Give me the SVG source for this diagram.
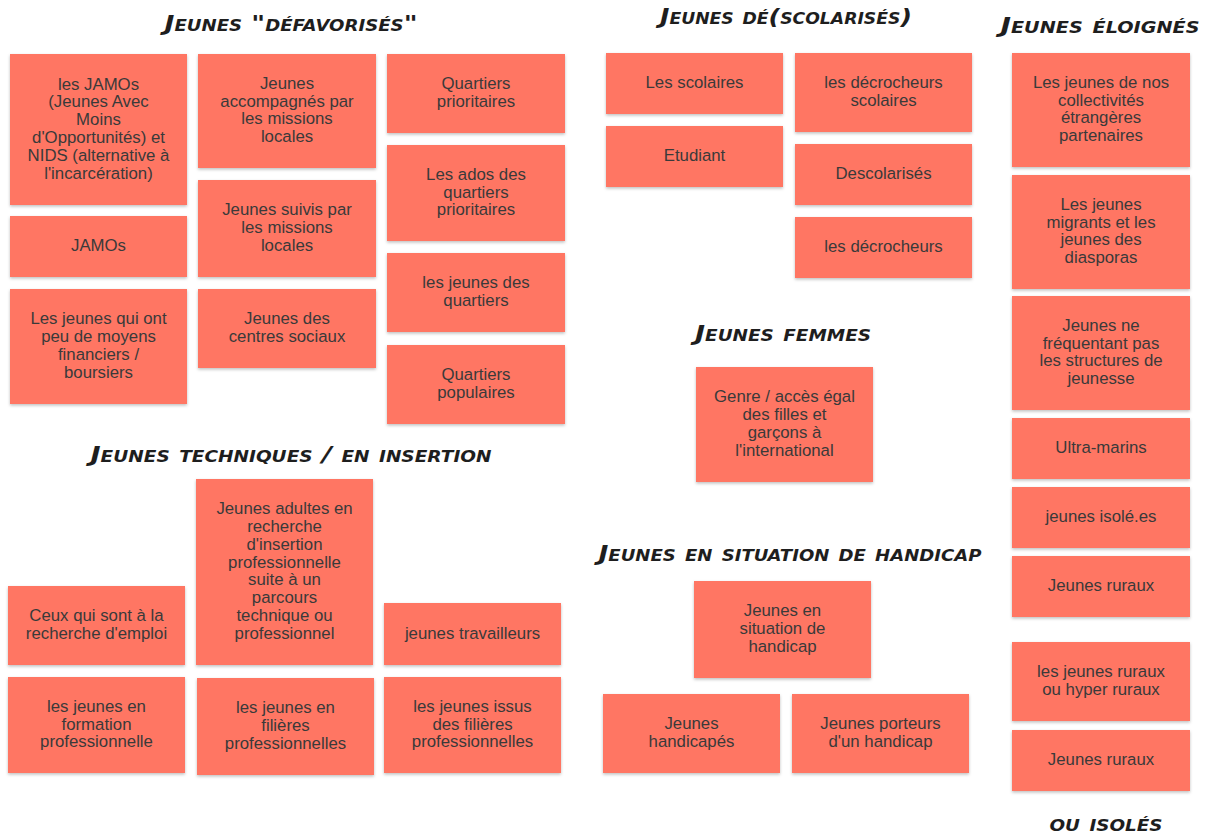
<svg xmlns="http://www.w3.org/2000/svg" width="1213" height="837" viewBox="0 0 1213 837">
<style>
.n rect{fill:#ff7664;filter:url(#sh)}
.n text{font-family:"Liberation Sans",Arial,sans-serif;font-size:16.8px;fill:#3a3a3a;text-anchor:middle;transform:translateY(-1.5px)}
.h{font-family:"DejaVu Sans",sans-serif;font-weight:bold;font-style:italic;font-variant:small-caps;font-size:22px;fill:#1e1e1e;text-anchor:middle}
</style>
<defs>
<filter id="sh" x="-10%" y="-10%" width="120%" height="130%">
<feDropShadow dx="0" dy="1.5" stdDeviation="1.5" flood-color="#000" flood-opacity="0.25"/>
</filter>
</defs>
<rect width="1213" height="837" fill="#fff"/>
<g id="headings">
<text class="h" x="291" y="31" textLength="253" lengthAdjust="spacingAndGlyphs">Jeunes "défavorisés"</text>
<text class="h" x="786" y="24" textLength="252" lengthAdjust="spacingAndGlyphs">Jeunes dé(scolarisés)</text>
<text class="h" x="1100" y="33" textLength="199" lengthAdjust="spacingAndGlyphs">Jeunes éloignés</text>
<text class="h" x="291" y="462" textLength="401" lengthAdjust="spacingAndGlyphs">Jeunes techniques / en insertion</text>
<text class="h" x="783" y="341" textLength="176" lengthAdjust="spacingAndGlyphs">Jeunes femmes</text>
<text class="h" x="790" y="561" textLength="383" lengthAdjust="spacingAndGlyphs">Jeunes en situation de handicap</text>
<text class="h" x="1106" y="831" textLength="113" lengthAdjust="spacingAndGlyphs">ou isolés</text>
</g>
<g id="n1" class="n"><rect x="10" y="54" width="177" height="151"/><text y="91"><tspan x="98.5">les JAMOs</tspan><tspan x="98.5" dy="17.8">(Jeunes Avec</tspan><tspan x="98.5" dy="17.8">Moins</tspan><tspan x="98.5" dy="17.8">d'Opportunités) et</tspan><tspan x="98.5" dy="17.8">NIDS (alternative à</tspan><tspan x="98.5" dy="17.8">l'incarcération)</tspan></text></g>
<g id="n2" class="n"><rect x="10" y="216" width="177" height="61"/><text y="252.5"><tspan x="98.5">JAMOs</tspan></text></g>
<g id="n3" class="n"><rect x="10" y="289" width="177" height="115"/><text y="325.8"><tspan x="98.5">Les jeunes qui ont</tspan><tspan x="98.5" dy="17.8">peu de moyens</tspan><tspan x="98.5" dy="17.8">financiers /</tspan><tspan x="98.5" dy="17.8">boursiers</tspan></text></g>
<g id="n4" class="n"><rect x="198" y="54" width="178" height="114"/><text y="90.3"><tspan x="287">Jeunes</tspan><tspan x="287" dy="17.8">accompagnés par</tspan><tspan x="287" dy="17.8">les missions</tspan><tspan x="287" dy="17.8">locales</tspan></text></g>
<g id="n5" class="n"><rect x="198" y="180" width="178" height="97"/><text y="216.7"><tspan x="287">Jeunes suivis par</tspan><tspan x="287" dy="17.8">les missions</tspan><tspan x="287" dy="17.8">locales</tspan></text></g>
<g id="n6" class="n"><rect x="198" y="289" width="178" height="79"/><text y="325.6"><tspan x="287">Jeunes des</tspan><tspan x="287" dy="17.8">centres sociaux</tspan></text></g>
<g id="n7" class="n"><rect x="387" y="54" width="178" height="79"/><text y="90.6"><tspan x="476">Quartiers</tspan><tspan x="476" dy="17.8">prioritaires</tspan></text></g>
<g id="n8" class="n"><rect x="387" y="145" width="178" height="96"/><text y="181.2"><tspan x="476">Les ados des</tspan><tspan x="476" dy="17.8">quartiers</tspan><tspan x="476" dy="17.8">prioritaires</tspan></text></g>
<g id="n9" class="n"><rect x="387" y="253" width="178" height="79"/><text y="289.6"><tspan x="476">les jeunes des</tspan><tspan x="476" dy="17.8">quartiers</tspan></text></g>
<g id="n10" class="n"><rect x="387" y="345" width="178" height="79"/><text y="381.6"><tspan x="476">Quartiers</tspan><tspan x="476" dy="17.8">populaires</tspan></text></g>
<g id="n11" class="n"><rect x="606" y="53" width="177" height="61"/><text y="89.5"><tspan x="694.5">Les scolaires</tspan></text></g>
<g id="n12" class="n"><rect x="606" y="126" width="177" height="61"/><text y="162.5"><tspan x="694.5">Etudiant</tspan></text></g>
<g id="n13" class="n"><rect x="795" y="53" width="177" height="79"/><text y="89.6"><tspan x="883.5">les décrocheurs</tspan><tspan x="883.5" dy="17.8">scolaires</tspan></text></g>
<g id="n14" class="n"><rect x="795" y="144" width="177" height="61"/><text y="180.5"><tspan x="883.5">Descolarisés</tspan></text></g>
<g id="n15" class="n"><rect x="795" y="217" width="177" height="61"/><text y="253.5"><tspan x="883.5">les décrocheurs</tspan></text></g>
<g id="n16" class="n"><rect x="1012" y="53" width="178" height="114"/><text y="89.3"><tspan x="1101">Les jeunes de nos</tspan><tspan x="1101" dy="17.8">collectivités</tspan><tspan x="1101" dy="17.8">étrangères</tspan><tspan x="1101" dy="17.8">partenaires</tspan></text></g>
<g id="n17" class="n"><rect x="1012" y="175" width="178" height="114"/><text y="211.3"><tspan x="1101">Les jeunes</tspan><tspan x="1101" dy="17.8">migrants et les</tspan><tspan x="1101" dy="17.8">jeunes des</tspan><tspan x="1101" dy="17.8">diasporas</tspan></text></g>
<g id="n18" class="n"><rect x="1012" y="296" width="178" height="114"/><text y="332.3"><tspan x="1101">Jeunes ne</tspan><tspan x="1101" dy="17.8">fréquentant pas</tspan><tspan x="1101" dy="17.8">les structures de</tspan><tspan x="1101" dy="17.8">jeunesse</tspan></text></g>
<g id="n19" class="n"><rect x="1012" y="418" width="178" height="61"/><text y="454.5"><tspan x="1101">Ultra-marins</tspan></text></g>
<g id="n20" class="n"><rect x="1012" y="487" width="178" height="61"/><text y="523.5"><tspan x="1101">jeunes isolé.es</tspan></text></g>
<g id="n21" class="n"><rect x="1012" y="556" width="178" height="61"/><text y="592.5"><tspan x="1101">Jeunes ruraux</tspan></text></g>
<g id="n22" class="n"><rect x="1012" y="642" width="178" height="79"/><text y="678.6"><tspan x="1101">les jeunes ruraux</tspan><tspan x="1101" dy="17.8">ou hyper ruraux</tspan></text></g>
<g id="n23" class="n"><rect x="1012" y="730" width="178" height="61"/><text y="766.5"><tspan x="1101">Jeunes ruraux</tspan></text></g>
<g id="n24" class="n"><rect x="696" y="367" width="177" height="115"/><text y="403.8"><tspan x="784.5">Genre / accès égal</tspan><tspan x="784.5" dy="17.8">des filles et</tspan><tspan x="784.5" dy="17.8">garçons à</tspan><tspan x="784.5" dy="17.8">l'international</tspan></text></g>
<g id="n25" class="n"><rect x="694" y="581" width="177" height="97"/><text y="617.7"><tspan x="782.5">Jeunes en</tspan><tspan x="782.5" dy="17.8">situation de</tspan><tspan x="782.5" dy="17.8">handicap</tspan></text></g>
<g id="n26" class="n"><rect x="603" y="694" width="177" height="79"/><text y="730.6"><tspan x="691.5">Jeunes</tspan><tspan x="691.5" dy="17.8">handicapés</tspan></text></g>
<g id="n27" class="n"><rect x="792" y="694" width="177" height="79"/><text y="730.6"><tspan x="880.5">Jeunes porteurs</tspan><tspan x="880.5" dy="17.8">d'un handicap</tspan></text></g>
<g id="n28" class="n"><rect x="8" y="586" width="177" height="79"/><text y="622.6"><tspan x="96.5">Ceux qui sont à la</tspan><tspan x="96.5" dy="17.8">recherche d'emploi</tspan></text></g>
<g id="n29" class="n"><rect x="196" y="479" width="177" height="186"/><text y="515.7"><tspan x="284.5">Jeunes adultes en</tspan><tspan x="284.5" dy="17.8">recherche</tspan><tspan x="284.5" dy="17.8">d'insertion</tspan><tspan x="284.5" dy="17.8">professionnelle</tspan><tspan x="284.5" dy="17.8">suite à un</tspan><tspan x="284.5" dy="17.8">parcours</tspan><tspan x="284.5" dy="17.8">technique ou</tspan><tspan x="284.5" dy="17.8">professionnel</tspan></text></g>
<g id="n30" class="n"><rect x="384" y="603" width="177" height="62"/><text y="640"><tspan x="472.5">jeunes travailleurs</tspan></text></g>
<g id="n31" class="n"><rect x="8" y="677" width="177" height="96"/><text y="713.2"><tspan x="96.5">les jeunes en</tspan><tspan x="96.5" dy="17.8">formation</tspan><tspan x="96.5" dy="17.8">professionnelle</tspan></text></g>
<g id="n32" class="n"><rect x="197" y="678" width="177" height="97"/><text y="714.7"><tspan x="285.5">les jeunes en</tspan><tspan x="285.5" dy="17.8">filières</tspan><tspan x="285.5" dy="17.8">professionnelles</tspan></text></g>
<g id="n33" class="n"><rect x="384" y="677" width="177" height="96"/><text y="713.2"><tspan x="472.5">les jeunes issus</tspan><tspan x="472.5" dy="17.8">des filières</tspan><tspan x="472.5" dy="17.8">professionnelles</tspan></text></g>
<g id="connectors"/>
</svg>
